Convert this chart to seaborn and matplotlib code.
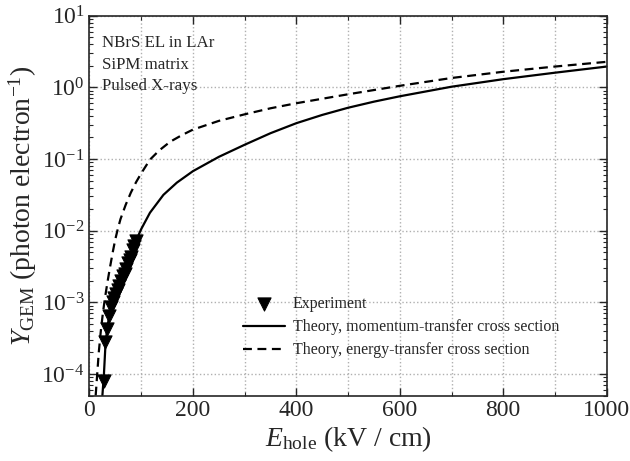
import numpy as np
import pandas as pd
import matplotlib
matplotlib.use("Agg")
import matplotlib.pyplot as plt
import matplotlib.ticker as mticker
import seaborn as sns

# experiment points (E_hole in kV/cm, Y_GEM in photon/electron)
exp_E = [28, 31, 34, 38, 42, 45, 48, 52, 55, 58, 61, 65, 68, 71, 74, 78, 81, 84, 87, 90]
exp_Y = [8e-5, 2.8e-4, 4.2e-4, 6.5e-4, 8.5e-4, 1.0e-3, 1.15e-3, 1.3e-3, 1.5e-3, 1.7e-3,
         2.0e-3, 2.3e-3, 2.5e-3, 2.95e-3, 3.5e-3, 3.9e-3, 4.3e-3, 5.3e-3, 6.2e-3, 7.2e-3]

# theory, momentum-transfer cross section
mom_E = [25, 28, 31, 35, 40, 45, 50, 55, 60, 65, 70, 75, 80, 85, 90, 95, 100, 117, 143,
         169, 200, 250, 300, 350, 400, 450, 500, 550, 600, 700, 800, 900, 1000]
mom_Y = [5e-5, 1e-4, 2.6e-4, 4.8e-4, 7.2e-4, 9.5e-4, 1.2e-3, 1.5e-3, 1.85e-3, 2.25e-3,
         2.8e-3, 3.5e-3, 4.3e-3, 5.4e-3, 6.9e-3, 8.7e-3, 1.05e-2, 1.78e-2, 3.16e-2,
         4.68e-2, 6.76e-2, 0.107, 0.158, 0.229, 0.316, 0.412, 0.519, 0.631, 0.75,
         1.02, 1.30, 1.60, 1.95]

# theory, energy-transfer cross section
en_E = [12, 15, 18, 22, 26, 30, 35, 40, 45, 50, 55, 60, 70, 80, 90, 100, 117, 135, 156,
        178, 200, 250, 300, 350, 400, 500, 600, 700, 800, 900, 1000]
en_Y = [5e-5, 1e-4, 2e-4, 4e-4, 7.1e-4, 1.15e-3, 1.95e-3, 3.16e-3, 5.0e-3, 7.6e-3,
        1.07e-2, 1.45e-2, 2.29e-2, 3.39e-2, 4.73e-2, 6.3e-2, 0.098, 0.132, 0.174,
        0.214, 0.257, 0.34, 0.42, 0.51, 0.60, 0.80, 1.05, 1.35, 1.65, 1.95, 2.27]

notes = ["NBrS EL in LAr", "SiPM matrix", "Pulsed X-rays"]

sns.set_style("ticks")
plt.rcParams['font.family'] = ['Liberation Serif', 'DejaVu Serif']
plt.rcParams['mathtext.fontset'] = 'custom'
plt.rcParams['mathtext.rm'] = 'Liberation Serif'
plt.rcParams['mathtext.it'] = 'Liberation Serif:italic'

fig = plt.figure(figsize=(6.3, 4.61), dpi=100)
ax = fig.add_axes([0.142, 0.142, 0.821, 0.824])

sns.lineplot(x=mom_E, y=mom_Y, ax=ax, color='black', lw=1.6,
             label='Theory, momentum-transfer cross section')
sns.lineplot(x=en_E, y=en_Y, ax=ax, color='black', lw=1.6, dashes=False,
             label='Theory, energy-transfer cross section')
ax.lines[-1].set_dashes((4, 2.5))
sns.scatterplot(x=exp_E, y=exp_Y, ax=ax, marker='v', s=90, color='black',
                edgecolor='black', label='Experiment', zorder=5)

ax.set_yscale('log')
ax.set_xlim(0, 1000)
ax.set_ylim(5e-5, 10)
ax.xaxis.set_major_locator(mticker.MultipleLocator(200))
ax.xaxis.set_minor_locator(mticker.MultipleLocator(100))
ax.yaxis.set_major_locator(mticker.LogLocator(base=10, numticks=10))
ax.yaxis.set_minor_locator(mticker.LogLocator(base=10, subs=np.arange(2, 10), numticks=10))
ax.yaxis.set_minor_formatter(mticker.NullFormatter())

ax.tick_params(which='both', direction='in', top=True, right=True)
ax.tick_params(which='major', length=6, width=1, labelsize=17)
ax.tick_params(which='minor', length=3, width=0.8)
for s in ax.spines.values():
    s.set_linewidth(1.2)

ax.grid(which='major', axis='y', ls=':', color='#b0b0b0', lw=1)
ax.grid(which='both', axis='x', ls=':', color='#b0b0b0', lw=1)

ax.set_xlabel(r'$E_{\rm hole}$ (kV / cm)', fontsize=20, labelpad=2)
ax.set_ylabel(r'$Y_{\rm GEM}$ (photon electron$^{-1}$)', fontsize=20, labelpad=2)

for i, t in enumerate(notes):
    ax.text(0.024, 0.928 - i * 0.057, t, transform=ax.transAxes, fontsize=12.2,
            va='center', ha='left')

h, l = ax.get_legend_handles_labels()
order = [2, 0, 1]
ax.legend([h[i] for i in order], [l[i] for i in order], loc='upper left',
          bbox_to_anchor=(0.27, 0.3), frameon=False, fontsize=11.5,
          handlelength=2.6, handletextpad=0.5, labelspacing=0.45)

fig.savefig('out.png', dpi=100)
